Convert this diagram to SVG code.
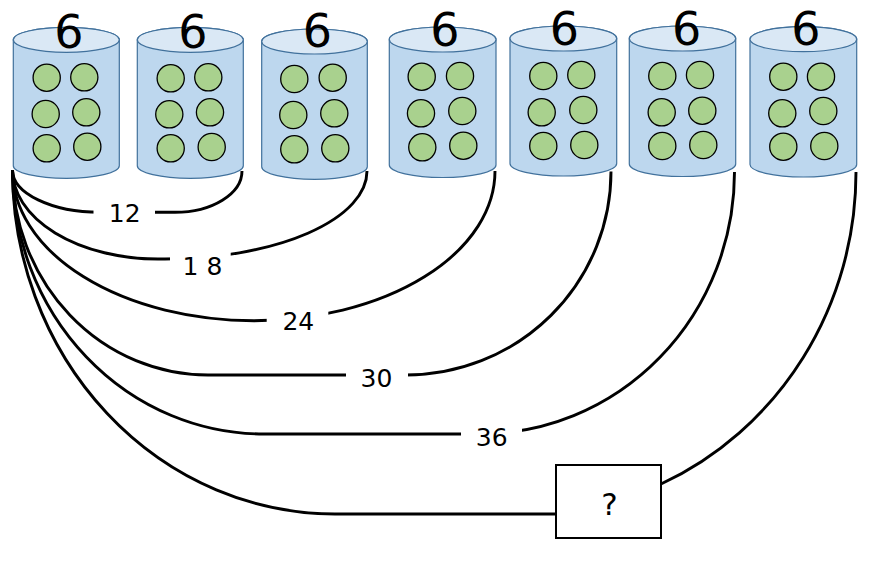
<svg xmlns="http://www.w3.org/2000/svg" width="877" height="563" viewBox="0 0 877 563">
<style>
.body{fill:#BDD7EE;stroke:#41719C;stroke-width:1.2}
.top{fill:#DAE8F5;stroke:#41719C;stroke-width:1.2}
.ball{fill:#A9D18E;stroke:#000;stroke-width:1.3}
.num{font-family:"DejaVu Sans",sans-serif;font-size:46px;fill:#000;text-anchor:middle}
.conn{fill:none;stroke:#000;stroke-width:2.9}
.lblbg{fill:#fff;stroke:none}
.lbl{font-family:"DejaVu Sans",sans-serif;font-size:25px;fill:#000;text-anchor:middle}
.box{fill:#fff;stroke:#000;stroke-width:2}
.q{font-family:"DejaVu Sans",sans-serif;font-size:31px;fill:#000;text-anchor:middle}
</style>
<rect width="877" height="563" fill="#fff"/>

<g id="connectors">
  <path class="conn" d="M12.5,170 A87.5,42.3 0 0 0 100,212.3 L175,212.3 A67,41.3 0 0 0 242,171"/>
  <path class="conn" d="M12.5,170 A145.5,89 0 0 0 158,259 L165,259 A202,88 0 0 0 367,171"/>
  <path class="conn" d="M12.5,170 A241.5,150.7 0 0 0 254,320.7 A241,149.7 0 0 0 495,171"/>
  <path class="conn" d="M12.5,170 A195.5,205 0 0 0 208,375 L406,375 A205,203.5 0 0 0 611,171.5"/>
  <path class="conn" d="M12.5,170 A251.5,264 0 0 0 264,434 L480,434 A254.5,262 0 0 0 734.5,172"/>
  <path class="conn" d="M12.5,170 A322.5,344 0 0 0 335,514 L556,514"/>
  <path class="conn" d="M661,484 A331,342 0 0 0 856,172"/>
  <g id="label-12"><rect class="lblbg" x="93.5" y="199" width="61.5" height="27"/><text class="lbl" x="124.7" y="221.7">12</text></g>
  <g id="label-18"><rect class="lblbg" x="170" y="245" width="60.7" height="33"/><text class="lbl" x="202.5" y="275">1 8</text></g>
  <g id="label-24"><rect class="lblbg" x="266.7" y="307" width="61.6" height="27"/><text class="lbl" x="298.3" y="330">24</text></g>
  <g id="label-30"><rect class="lblbg" x="346" y="362" width="62" height="27"/><text class="lbl" x="376.5" y="386.7">30</text></g>
  <g id="label-36"><rect class="lblbg" x="461" y="420" width="61" height="28"/><text class="lbl" x="491.7" y="445.7">36</text></g>
</g>

<g id="cyl1">
  <path class="body" d="M13.3,39.8 L13.3,165.8 A53,12.5 0 0 0 119.3,165.8 L119.3,39.8 A53,12.5 0 0 0 13.3,39.8 Z"/>
  <ellipse class="top" cx="66.3" cy="39.8" rx="53" ry="12.5"/>
  <text class="num" x="68.8" y="48">6</text>
  <circle class="ball" cx="46.7" cy="77.7" r="13.6"/><circle class="ball" cx="84.3" cy="77.3" r="13.6"/>
  <circle class="ball" cx="45.7" cy="114" r="13.6"/><circle class="ball" cx="86.3" cy="112.3" r="13.6"/>
  <circle class="ball" cx="46.7" cy="148.3" r="13.6"/><circle class="ball" cx="87.3" cy="146.7" r="13.6"/>
</g>
<g id="cyl2">
  <path class="body" d="M137.3,39.8 L137.3,165.8 A53,12.5 0 0 0 243.3,165.8 L243.3,39.8 A53,12.5 0 0 0 137.3,39.8 Z"/>
  <ellipse class="top" cx="190.3" cy="39.8" rx="53" ry="12.5"/>
  <text class="num" x="193" y="48">6</text>
  <circle class="ball" cx="170.7" cy="78.3" r="13.6"/><circle class="ball" cx="208.3" cy="77.3" r="13.6"/>
  <circle class="ball" cx="169.3" cy="114.3" r="13.6"/><circle class="ball" cx="210" cy="112.3" r="13.6"/>
  <circle class="ball" cx="170.7" cy="148.3" r="13.6"/><circle class="ball" cx="211.7" cy="147" r="13.6"/>
</g>
<g id="cyl3">
  <path class="body" d="M261.7,41.5 L261.7,166.8 A52.8,12.5 0 0 0 367.3,166.8 L367.3,41.5 A52.8,12.5 0 0 0 261.7,41.5 Z"/>
  <ellipse class="top" cx="314.5" cy="41.5" rx="52.8" ry="12.5"/>
  <text class="num" x="317.5" y="47">6</text>
  <circle class="ball" cx="294.3" cy="79" r="13.6"/><circle class="ball" cx="332.7" cy="77.7" r="13.6"/>
  <circle class="ball" cx="293.3" cy="115" r="13.6"/><circle class="ball" cx="334.3" cy="113.3" r="13.6"/>
  <circle class="ball" cx="294.3" cy="149.3" r="13.6"/><circle class="ball" cx="335.3" cy="148.3" r="13.6"/>
</g>
<g id="cyl4">
  <path class="body" d="M389.3,39.5 L389.3,165 A53.35,12.5 0 0 0 496,165 L496,39.5 A53.35,12.5 0 0 0 389.3,39.5 Z"/>
  <ellipse class="top" cx="442.65" cy="39.5" rx="53.35" ry="12.5"/>
  <text class="num" x="445" y="45.5">6</text>
  <circle class="ball" cx="421.7" cy="76.7" r="13.6"/><circle class="ball" cx="460" cy="76" r="13.6"/>
  <circle class="ball" cx="421" cy="113.3" r="13.6"/><circle class="ball" cx="462.3" cy="111" r="13.6"/>
  <circle class="ball" cx="422.3" cy="147.3" r="13.6"/><circle class="ball" cx="463.3" cy="145.7" r="13.6"/>
</g>
<g id="cyl5">
  <path class="body" d="M510,38.5 L510,163.5 A53.35,12.5 0 0 0 616.7,163.5 L616.7,38.5 A53.35,12.5 0 0 0 510,38.5 Z"/>
  <ellipse class="top" cx="563.35" cy="38.5" rx="53.35" ry="12.5"/>
  <text class="num" x="564.5" y="45">6</text>
  <circle class="ball" cx="543.3" cy="76" r="13.6"/><circle class="ball" cx="581.3" cy="75" r="13.6"/>
  <circle class="ball" cx="541.7" cy="112.3" r="13.6"/><circle class="ball" cx="583.3" cy="110" r="13.6"/>
  <circle class="ball" cx="543.3" cy="146" r="13.6"/><circle class="ball" cx="584.3" cy="145" r="13.6"/>
</g>
<g id="cyl6">
  <path class="body" d="M629.3,38.5 L629.3,164 A53.2,12.5 0 0 0 735.7,164 L735.7,38.5 A53.2,12.5 0 0 0 629.3,38.5 Z"/>
  <ellipse class="top" cx="682.5" cy="38.5" rx="53.2" ry="12.5"/>
  <text class="num" x="686.7" y="45">6</text>
  <circle class="ball" cx="662.3" cy="76" r="13.6"/><circle class="ball" cx="700" cy="75" r="13.6"/>
  <circle class="ball" cx="661.7" cy="112.3" r="13.6"/><circle class="ball" cx="702.3" cy="110.7" r="13.6"/>
  <circle class="ball" cx="662.3" cy="146" r="13.6"/><circle class="ball" cx="703.3" cy="145" r="13.6"/>
</g>
<g id="cyl7">
  <path class="body" d="M750,39.2 L750,164.5 A53.35,12.5 0 0 0 856.7,164.5 L856.7,39.2 A53.35,12.5 0 0 0 750,39.2 Z"/>
  <ellipse class="top" cx="803.35" cy="39.2" rx="53.35" ry="12.5"/>
  <text class="num" x="805.8" y="45">6</text>
  <circle class="ball" cx="783.3" cy="76.7" r="13.6"/><circle class="ball" cx="821" cy="76.7" r="13.6"/>
  <circle class="ball" cx="782.3" cy="113.3" r="13.6"/><circle class="ball" cx="823.3" cy="111" r="13.6"/>
  <circle class="ball" cx="783.3" cy="146.7" r="13.6"/><circle class="ball" cx="824.3" cy="146" r="13.6"/>
</g>
<g id="unknown">
  <rect class="box" x="556" y="465" width="105" height="73"/>
  <text class="q" x="609.5" y="515">?</text>
</g>
</svg>
